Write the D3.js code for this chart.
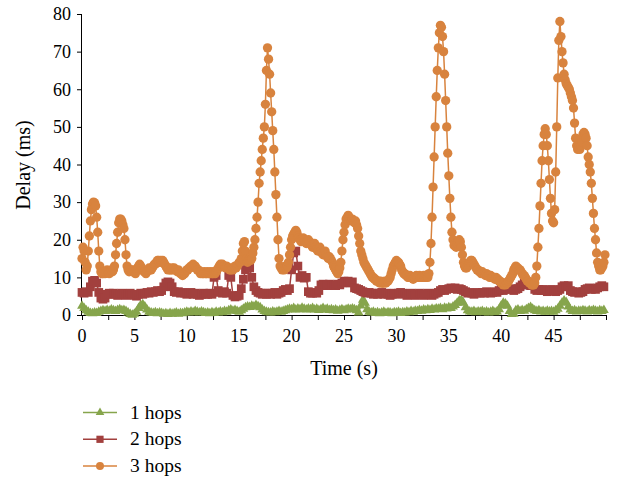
<!DOCTYPE html>
<html><head><meta charset="utf-8">
<script src="https://cdn.jsdelivr.net/npm/d3@7"></script>
<style>body{margin:0;background:#fff}</style>
</head><body>
<svg id="c" width="619" height="478"></svg>
<script>
// ---- data ----
const xTickLabels = [0, 5, 10, 15, 20, 25, 30, 35, 40, 45];
const xMinorTicks = [0, 2.5, 5, 7.5, 10, 12.5, 15, 17.5, 20, 22.5, 25, 27.5, 30, 32.5, 35, 37.5, 40, 42.5, 45, 47.5, 50];
const yTickLabels = [0, 10, 20, 30, 40, 50, 60, 70, 80];
const seriesNames = ["1 hops", "2 hops", "3 hops"];
const seriesColors = ["#86A54C", "#A2403E", "#D8833E"];
const stepHops1 = 0.2; // seconds between samples
const stepHops2 = 0.2;
const stepHops3 = 0.1;

const hops1 = [
2.4,1.8,1.2,0.8,0.5,0.4,0.6,0.5,0.8,1,
1.2,1,1.3,1.1,1.4,1.2,1,1.3,1.5,1.2,
1.3,1,0.6,0.2,0,0.3,0.8,1.8,2.6,2.8,
2.2,1.4,0.8,0.6,0.5,0.7,0.4,0.6,0.5,0.3,
0.4,0.2,0.5,0.3,0.4,0.6,0.3,0.5,0.4,0.6,
0.8,0.6,0.9,0.7,1,0.8,0.6,0.9,0.7,0.5,
0.6,0.4,0.7,0.5,0.8,0.6,0.9,0.7,1,0.8,
1.2,1.4,1.1,1.3,1,0.8,1.2,1.6,2,2.2,
2.1,2.4,2.2,2.6,2.3,2,1.4,1,0.8,0.7,
0.6,0.9,0.7,0.8,1,0.8,1,1.2,1.4,1.6,
1.5,1.8,1.4,1.7,1.5,1.9,1.6,1.4,1.7,1.5,
1.8,1.4,1.6,1.3,1.5,1.8,1.4,1.6,1.3,1.5,
1.2,1.4,1.1,1.3,1.5,1.2,1.4,1.6,1.5,1.7,
1.5,1.2,0.6,2.5,4,3.2,1.5,0.8,0.6,0.8,
0.5,0.7,0.4,0.6,0.8,0.5,0.7,0.6,0.4,0.7,
0.6,0.8,0.5,0.7,0.6,0.9,0.7,1,0.8,1.1,
1,1.3,1.1,1.4,1.2,1.5,1.3,1.6,1.4,1.7,
1.6,1.8,1.5,1.9,1.7,2,1.8,2.2,2.6,3.2,
3.8,4,3.2,2,1.2,0.9,0.8,1,0.7,0.9,
0.8,1,0.7,0.9,0.6,0.8,1,0.7,0.9,1.5,
2.5,3.2,3,2.4,1,0.2,0.3,1.2,1.4,1,
1.3,1.1,1.5,1.8,2.1,1.6,1.2,1,1.2,0.9,
1,0.8,1.1,0.9,1,0.8,1.2,1.6,2.4,3.2,
3.8,3.4,2.2,1.4,1,1.2,0.9,1.1,1,1.2,
1.1,0.9,1.2,1,1.3,1.1,0.9,1.2,1,1.3
];

const hops2 = [
6,5.8,6.2,6,7.5,9,9.2,8.5,6,4.5,
4.2,4.5,5.5,5.8,5.5,5.8,5.5,5.2,5.5,5.8,
5.5,5.2,5.5,5.8,5.5,5.2,5,5.5,5.8,5.5,
5.8,6,5.8,6.2,6,6.2,6.5,6.2,6.5,7.5,
8.5,8.8,8.5,7.5,6.2,6,6.2,5.8,6,5.8,
5.5,5.8,6,5.5,5.8,5.5,5.2,5.5,5.8,5.5,
5.5,5.8,5.5,10,10.5,6.5,6,5.8,6.2,5.8,
10.5,10,5.2,4.8,5,5.2,7,9.5,12,13,
12.5,10,7.5,6.5,6,5.8,5.5,5.8,5.5,5.8,
5.5,5.8,6,5.5,5.8,6,6.5,6.8,6.5,7,
12,16.5,17,13,10,10.5,9.8,10,6.2,5.8,
5.8,6,5.8,6.5,8,8.2,7.8,8,8.2,7.8,
8,7.8,8.2,8,8.5,9,8.8,9,8.5,8.8,
7.2,7,6.8,6.5,6.2,6,5.8,6,5.8,5.5,
5.8,5.5,5.8,6,5.5,5.8,5.5,5.2,5.5,5.8,
5.5,5.8,6,5.8,5.5,5.2,5.5,5.8,5.5,5.2,
5.5,5.8,5.5,5.2,5.5,5.8,5.5,5.2,5.5,5.8,
6,6.5,6.8,6.5,6.8,7,7.2,7,7.2,6.8,
7,6.8,6.5,6.2,5.8,6,5.8,5.5,5.8,6,
5.8,6,5.8,6.2,6,5.8,6,6.2,6,6.5,
6.8,6.5,6.8,7,6.8,7,6.5,6.8,7,7.5,
8,8.5,8.2,8,7.8,8,6.8,6.5,6.8,6.5,
6.8,6.5,6.2,6.5,6.8,6.5,6.2,6.5,6.8,7.5,
7.8,7.5,7.8,6.5,6.2,6,6.2,5.8,6,6.2,
6.8,7,7.2,6.8,7,6.8,7.2,7.5,7.8,7.5
];

const hops3 = [
15,18,17,14,12,13,17,21,25,28,
29.5,30,29.8,29,26,22,17,13,11.5,11,
11,11.5,11,11.5,12,11.5,11,11.5,12,11.5,
12,13,16,19,22,24.5,25.5,25.5,25,24,
23,20,16,13,12,11.5,12,12,11.5,12,
11.5,11,12,12.5,13,13.5,13,12.5,12,11.5,
11.5,11,11.5,12,12.5,12,12,12.5,13,13.5,
13.5,14,14.5,14.5,14,14.5,14,14.5,14,13.5,
13,12.5,12,12.5,12,12,12.5,12,12.5,12,
12,11.5,12,11.5,11,11,10.5,11,11,11.5,
12,12,12.5,12.5,13,13,13.5,13,13,12.5,
12,12,11.5,11,11.5,11,11,11.5,11,11,
11.5,11,11,11.5,11,11,11.5,11,11.5,12,
12.5,13,13.5,13,13.5,13,13,12.5,13,12.5,
12.5,12,12,12.5,12,12.5,13,12.5,13,13.5,
14,14,15,17,19,19.5,17,15,14,14.5,
15,14.5,15,16.5,18,20,23,26,30,35,
38,41,44,47,50,56,65,71,68,64,
59,54,49,44,38,32,26,20,15,13,
12.5,12,12.5,12,13,12.5,13,14,16,18,
20,21,21.5,22,22.5,22,21,20.5,20,19.5,
20,20.5,20,19.5,19,19.5,20,19.5,19,18.5,
18,18.5,19,18,17.5,17,17.5,18,17,16.5,
16,16.5,17,16,15.5,15,15.5,15,14.5,14,
13,12.5,12,11.5,11,11.5,12.5,14,17,20,
22,24,25.5,26,26.5,26,25.5,25,25.5,25,
24.5,25,24,23,21,19,17,16,15,14,
13.5,13,12.5,12,11.5,11,10.5,10,10,9.5,
9.5,9,9,9,8.5,9,8.5,8.5,8.5,9,
8.5,9,9,9.5,10,11,12,13,13.5,14,
14.5,14,14,13.5,13,12,11.5,11,11,10.5,
10.5,10,10,10.5,10,10,9.5,10,10,10.5,
10,10,10.5,10,10,10,10.5,10,10,10.5,
10,11,14,19,26,34,42,50,58,65,
71,75,77,76.5,74,70,64,57,50,43,
37,31,26,22,20,18.5,19,18,19,19.5,
20,19.5,18,16,14,13,12.5,12.5,13,13.5,
14,14.5,14.5,14,13.5,13,12.5,12,12,11.5,
11.5,11,11.5,11,11,10.5,11,10.5,10.5,10,
10.5,10,10,10,9.5,10,9.5,9.5,9,9,
8.5,8.5,8,8.5,8,8.5,8.5,9,9.5,10,
10.5,11,12,12.5,13,12.5,12.5,12,12,11.5,
11,10.5,10.5,10,9.5,9,9,8.5,8.5,8,
8,8,8.5,10,13,18,23,29,35,41,
45,48,49.5,48,45,41,36,31,27,25,
24.5,28,38,50,63,73,78,74,70,67,
64,62.5,61.5,61,60.5,60,59,58,57,55,
51,47,45,44,44.5,44,45,46,48,48.5,
48,47,45,42,40,38,35,31,27,23,
20,16.5,14,13,12,12,12.5,13,14,16
];

// ---- chart ----
const svg = d3.select("#c");
const x = d3.scaleLinear().domain([0, 50]).range([82, 606]);
const y = d3.scaleLinear().domain([0, 80]).range([315, 14]);
const FONT = "'Liberation Serif', 'Times New Roman', serif";

// axes
const yAxis = svg.append("g").attr("transform", "translate(82,0)")
  .call(d3.axisLeft(y).tickValues(yTickLabels).tickSize(5).tickPadding(6).tickFormat(d3.format("d")));
yAxis.selectAll("text").attr("font-family", FONT).attr("font-size", 18).attr("fill", "#000");
yAxis.select(".domain").attr("d", `M-0.5,${y(80)}V${y(0)}`).attr("stroke", "#000");
yAxis.selectAll(".tick line").attr("stroke", "#000");

const xAxisTicks = svg.append("g").attr("transform", "translate(0,315)")
  .call(d3.axisBottom(x).tickValues(xMinorTicks).tickSize(5).tickFormat(""));
xAxisTicks.select(".domain").attr("d", `M${x(0)},0.5H${x(50)}`).attr("stroke", "#000");
xAxisTicks.selectAll(".tick line").attr("stroke", "#000");

svg.append("g").selectAll("text").data(xTickLabels).join("text")
  .attr("x", d => x(d)).attr("y", 342)
  .attr("text-anchor", "middle").attr("font-family", FONT).attr("font-size", 18)
  .text(d => d);

// axis titles
svg.append("text").attr("transform", "translate(30,165) rotate(-90)")
  .attr("text-anchor", "middle").attr("font-family", FONT).attr("font-size", 20)
  .text("Delay (ms)");
svg.append("text").attr("x", 344).attr("y", 375)
  .attr("text-anchor", "middle").attr("font-family", FONT).attr("font-size", 20)
  .text("Time (s)");

// series
const series = [
  {name: seriesNames[0], values: hops1, step: stepHops1, color: seriesColors[0], symbol: d3.symbolTriangle, size: 42, legendSize: 32},
  {name: seriesNames[1], values: hops2, step: stepHops2, color: seriesColors[1], symbol: d3.symbolSquare, size: 76, legendSize: 52},
  {name: seriesNames[2], values: hops3, step: stepHops3, color: seriesColors[2], symbol: d3.symbolCircle, size: 68, legendSize: 50}
];

series.forEach(s => {
  const pts = s.values.map((v, i) => [i * s.step, v]);
  const line = d3.line().x(d => x(d[0])).y(d => y(d[1]));
  const g = svg.append("g");
  g.append("path").datum(pts).attr("d", line)
    .attr("fill", "none").attr("stroke", s.color).attr("stroke-width", 1.5);
  g.selectAll("path.m").data(pts).join("path").attr("class", "m")
    .attr("transform", d => `translate(${x(d[0])},${y(d[1])})`)
    .attr("d", d3.symbol().type(s.symbol).size(s.size))
    .attr("fill", s.color);
});

// legend
const legendY = [412.5, 439.3, 466];
series.forEach((s, i) => {
  const g = svg.append("g").attr("transform", `translate(0,${legendY[i]})`);
  g.append("line").attr("x1", 83).attr("x2", 117).attr("y1", 0).attr("y2", 0)
    .attr("stroke", s.color).attr("stroke-width", 1.5);
  g.append("path").attr("transform", "translate(100,0)")
    .attr("d", d3.symbol().type(s.symbol).size(s.legendSize)).attr("fill", s.color);
  g.append("text").attr("x", 130).attr("y", 6).attr("font-family", FONT).attr("font-size", 19.5)
    .text(s.name);
});
</script>
</body></html>
